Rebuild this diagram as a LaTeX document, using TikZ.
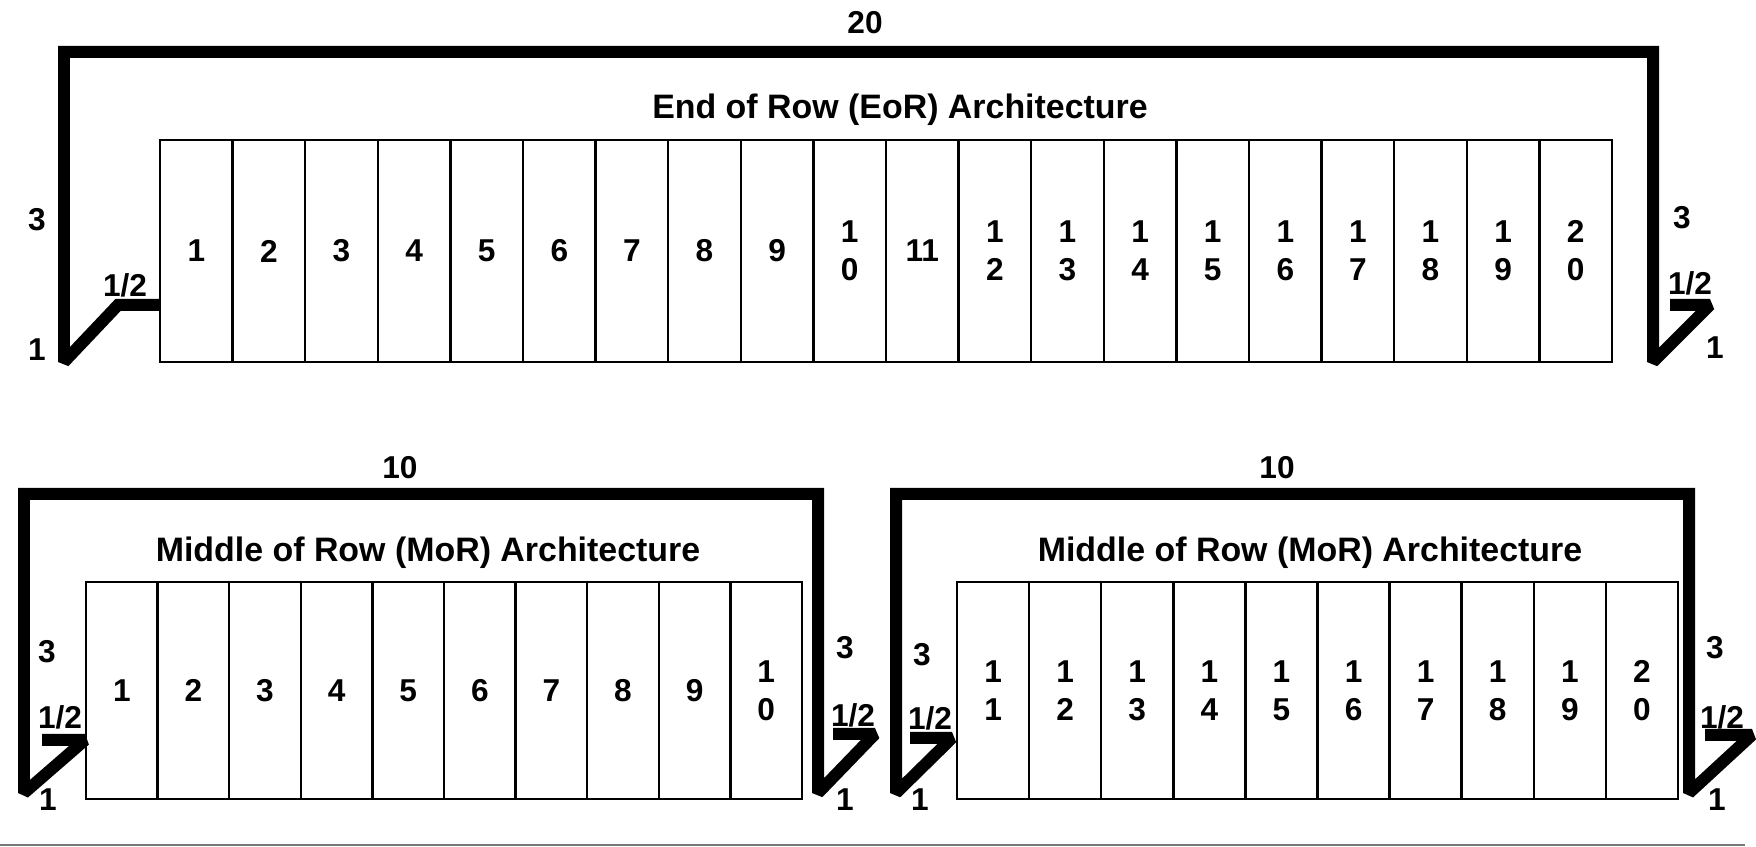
\documentclass[tikz,border=0pt]{standalone}
\usepackage{fontspec}
\setmainfont{Liberation Sans}
\usepackage{tikz}
\usetikzlibrary{positioning}
\definecolor{rulegray}{RGB}{120,120,120}

\begin{document}
\begin{tikzpicture}[x=0.02cm,y=-0.02cm]
  \tikzstyle{slot}=[draw,line width=1.4pt,inner sep=0pt,align=center,font=\fontsize{18}{21.6}\selectfont\bfseries]
  \tikzstyle{cable}=[line width=0.24cm,line join=miter,miter limit=2]
  \tikzstyle{lbl}=[inner sep=0pt,font=\fontsize{18}{21.6}\selectfont\bfseries]
  \tikzstyle{ttl}=[inner sep=0pt,font=\fontsize{19.3}{23}\selectfont\bfseries]
  \useasboundingbox (0,0) rectangle (1756,847);

  % End of Row
  \foreach \lab [count=\i] in {1,2,3,4,5,6,7,8,9,{1\\0},11,{1\\2},{1\\3},{1\\4},{1\\5},{1\\6},{1\\7},{1\\8},{1\\9},{2\\0}}
    \node[slot,minimum width=1.452cm,minimum height=4.44cm] (e\i) at ({160+72.6*(\i-0.5)},251) {\lab};
  \draw[cable] (160,305) -- (118,305) -- (64,362) -- (64,52) -- (1653,52) -- (1653,362) -- (1710,305) -- (1670,305);
  \node[lbl] (etop) at (865,23) {20};
  \node[ttl] (etitle) at (900,110) {End of Row (EoR) Architecture};
  \node[lbl] (el3) at (37,220) {3};
  \node[lbl] (elh) at (125,285) {1/2};
  \node[lbl] (el1) at (37,350) {1};
  \node[lbl] (er3) at (1682,218) {3};
  \node[lbl] (erh) at (1690,283) {1/2};
  \node[lbl] (er1) at (1715,348) {1};

  % Middle of Row, left half
  \foreach \lab [count=\i] in {1,2,3,4,5,6,7,8,9,{1\\0}}
    \node[slot,minimum width=1.432cm,minimum height=4.34cm] (ml\i) at ({86+71.6*(\i-0.5)},690.5) {\lab};
  \draw[cable] (42,740) -- (85,740) -- (24,793) -- (24,494) -- (818,494) -- (818,793) -- (875,734) -- (833,734);
  \node[lbl] (mltop) at (400,468) {10};
  \node[ttl] (mltitle) at (428,553) {Middle of Row (MoR) Architecture};
  \node[lbl] (mll3) at (47,652) {3};
  \node[lbl] (mllh) at (60,717) {1/2};
  \node[lbl] (mll1) at (48,800) {1};
  \node[lbl] (mlr3) at (845,648) {3};
  \node[lbl] (mlrh) at (853,715) {1/2};
  \node[lbl] (mlr1) at (845,800) {1};

  % Middle of Row, right half
  \foreach \lab [count=\i] in {{1\\1},{1\\2},{1\\3},{1\\4},{1\\5},{1\\6},{1\\7},{1\\8},{1\\9},{2\\0}}
    \node[slot,minimum width=1.442cm,minimum height=4.34cm] (mr\i) at ({957+72.1*(\i-0.5)},690.5) {\lab};
  \draw[cable] (910,738) -- (952,738) -- (896,793) -- (896,494) -- (1689,494) -- (1689,793) -- (1752,735) -- (1705,735);
  \node[lbl] (mrtop) at (1277,468) {10};
  \node[ttl] (mrtitle) at (1310,553) {Middle of Row (MoR) Architecture};
  \node[lbl] (mrl3) at (922,655) {3};
  \node[lbl] (mrlh) at (930,718) {1/2};
  \node[lbl] (mrl1) at (920,800) {1};
  \node[lbl] (mrr3) at (1715,648) {3};
  \node[lbl] (mrrh) at (1722,717) {1/2};
  \node[lbl] (mrr1) at (1717,800) {1};

  \draw[rulegray,line width=0.04cm] (0,845) -- (1745,845);
\end{tikzpicture}
\end{document}
